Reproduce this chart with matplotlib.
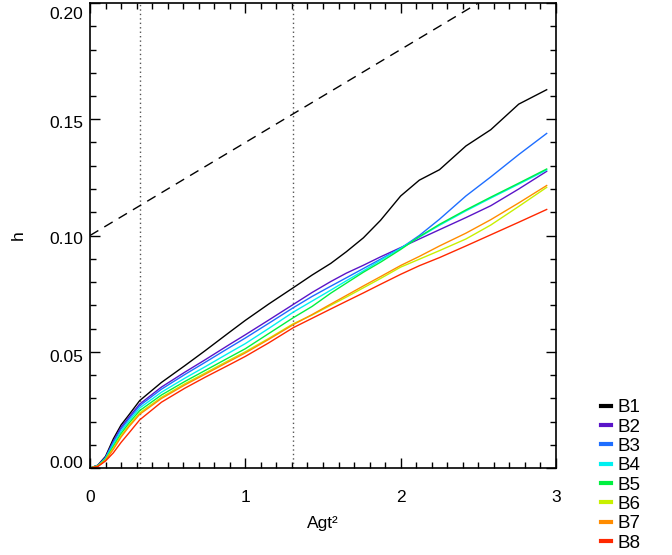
import matplotlib
matplotlib.use("Agg")
import matplotlib.pyplot as plt
import matplotlib.transforms as mtrans

plt.rcParams['font.family'] = ['Liberation Sans', 'DejaVu Sans']

x = [0, 0.05, 0.1, 0.15, 0.2, 0.25, 0.32, 0.46, 0.61, 0.74, 0.9, 1.0, 1.15, 1.31,
     1.43, 1.55, 1.65, 1.76, 1.87, 2.0, 2.12, 2.25, 2.42, 2.58, 2.76, 2.94]

B1 = [0, 0.0012, 0.0050, 0.0125, 0.0185, 0.0228, 0.0290, 0.0368, 0.0440, 0.0504, 0.0585, 0.0635, 0.0705, 0.0776,
      0.0830, 0.0880, 0.0930, 0.0990, 0.1065, 0.1170, 0.1238, 0.1283, 0.1385, 0.1455, 0.1565, 0.1627]
B2 = [0, 0.0011, 0.0046, 0.0115, 0.0175, 0.0218, 0.0275, 0.0348, 0.0412, 0.0465, 0.0532, 0.0573, 0.0636, 0.0704,
      0.0755, 0.0802, 0.0838, 0.0872, 0.0908, 0.0948, 0.0985, 0.1025, 0.1077, 0.1128, 0.1200, 0.1276]
B3 = [0, 0.0010, 0.0044, 0.0110, 0.0168, 0.0211, 0.0268, 0.0339, 0.0402, 0.0454, 0.0519, 0.0559, 0.0622, 0.0690,
      0.0738, 0.0782, 0.0818, 0.0858, 0.0898, 0.0945, 0.1000, 0.1070, 0.1170, 0.1252, 0.1348, 0.1439]
B4 = [0, 0.0010, 0.0041, 0.0102, 0.0158, 0.0202, 0.0258, 0.0326, 0.0386, 0.0435, 0.0497, 0.0535, 0.0600, 0.0671,
      0.0718, 0.0765, 0.0805, 0.0848, 0.0893, 0.0945, 0.0993, 0.1044, 0.1106, 0.1161, 0.1221, 0.1282]
B5 = [0, 0.0009, 0.0038, 0.0093, 0.0148, 0.0192, 0.0247, 0.0314, 0.0372, 0.0419, 0.0477, 0.0513, 0.0578, 0.0647,
      0.0695, 0.0752, 0.0795, 0.0842, 0.0885, 0.0940, 0.0995, 0.1048, 0.1110, 0.1165, 0.1225, 0.1286]
B6 = [0, 0.0008, 0.0035, 0.0085, 0.0139, 0.0183, 0.0237, 0.0304, 0.0362, 0.0408, 0.0465, 0.0500, 0.0557, 0.0621,
      0.0658, 0.0700, 0.0735, 0.0775, 0.0815, 0.0864, 0.0898, 0.0935, 0.0985, 0.1045, 0.1125, 0.1207]
B7 = [0, 0.0008, 0.0033, 0.0080, 0.0133, 0.0177, 0.0231, 0.0299, 0.0357, 0.0403, 0.0460, 0.0495, 0.0553, 0.0617,
      0.0660, 0.0705, 0.0742, 0.0783, 0.0823, 0.0871, 0.0910, 0.0955, 0.1010, 0.1068, 0.1140, 0.1215]
B8 = [0, 0.0006, 0.0030, 0.0065, 0.0110, 0.0150, 0.0207, 0.0283, 0.0343, 0.0390, 0.0445, 0.0480, 0.0538, 0.0604,
      0.0644, 0.0684, 0.0717, 0.0753, 0.0790, 0.0833, 0.0870, 0.0905, 0.0955, 0.1003, 0.1057, 0.1112]

labels = ['B1', 'B2', 'B3', 'B4', 'B5', 'B6', 'B7', 'B8']
series = [B1, B2, B3, B4, B5, B6, B7, B8]
colors = ['#000000', '#5a14c8', '#1e6eff', '#00f0f0', '#00f040', '#c8f000', '#ff8c00', '#ff2800']

dash_x = [0, 3]
dash_y = [0.10, 0.22]
vlines_x = [0.32, 1.31]

yticks = [0, 0.05, 0.10, 0.15, 0.20]
ytick_labels = ['0.00', '0.05', '0.10', '0.15', '0.20']
xticks = [0, 1, 2, 3]
xtick_labels = ['0', '1', '2', '3']

fig = plt.figure(figsize=(6.72, 5.55), dpi=100)
ax = fig.add_axes([90/672, 1-468/555, (556-90)/672, (468-3)/555])

for xv in vlines_x:
    ax.axvline(xv, color='#555555', lw=1.0, linestyle=(0, (1, 2.2)))
ax.plot(dash_x, dash_y, color='black', lw=1.0, linestyle=(0, (7, 5)))

handles = []
for s, c, lab in zip(series, colors, labels):
    h, = ax.plot(x, s, color=c, lw=1.0, label=lab)
    handles.append(h)

ax.set_xlim(0, 3)
ax.set_ylim(0, 0.20)
ax.set_xticks(xticks)
ax.set_xticklabels(xtick_labels)
ax.set_yticks(yticks)
ax.set_yticklabels(ytick_labels)
ax.set_xticks([i/10 for i in range(31)], minor=True)
ax.set_yticks([i/100 for i in range(21)], minor=True)
ax.tick_params(which='both', direction='in', top=True, right=True, width=1.0, labelsize=12.5)
ax.tick_params(which='major', length=7.2)
ax.tick_params(which='minor', length=4)
ax.tick_params(axis='x', which='major', pad=16)
ax.tick_params(axis='y', which='major', pad=5)
for sp in ax.spines.values():
    sp.set_linewidth(1.2)

# vertical offsets of y tick labels (pixels, positive = down)
offsets = [-5.5, 4, 3, 3, 10]
for lab, dy in zip(ax.get_yticklabels(), offsets):
    lab.set_transform(lab.get_transform() + mtrans.ScaledTranslation(0, -dy/100, fig.dpi_scale_trans))

ax.set_xlabel('Agt²', fontsize=12.5, labelpad=8)
ax.set_ylabel('h', fontsize=12.5, labelpad=17)

leg = fig.legend(handles, labels, loc='upper left', bbox_to_anchor=(601/672, 1-399/555),
                 frameon=False, fontsize=13.5, handlelength=0.55, handletextpad=0.32,
                 labelspacing=0.12, borderpad=0, borderaxespad=0)
for lh in leg.get_lines():
    lh.set_linewidth(3)

fig.savefig('out.png', dpi=100)
